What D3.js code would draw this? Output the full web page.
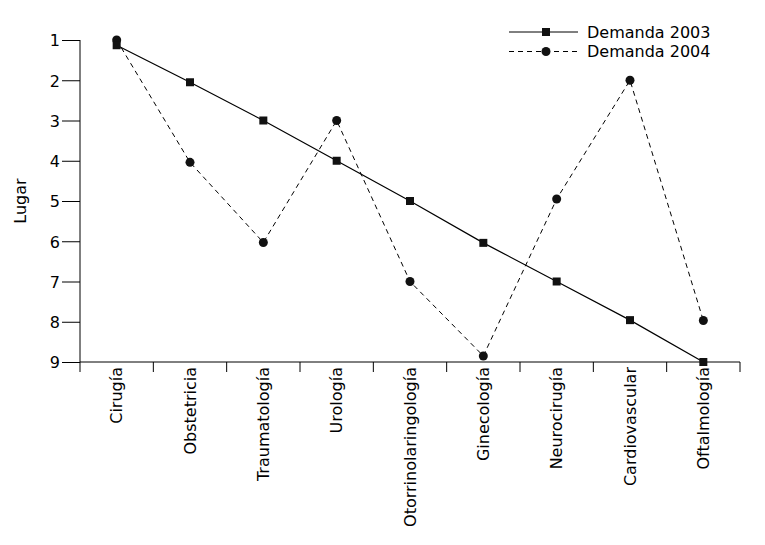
<!DOCTYPE html>
<html><head><meta charset="utf-8">
<script src="https://cdn.jsdelivr.net/npm/d3@7"></script>
<style>body{margin:0;background:#fff}svg{display:block}text{font-family:"DejaVu Sans",sans-serif;fill:#000}</style>
</head><body>
<svg id="c" width="765" height="545"></svg>
<script>
const categories = ["Cirugía","Obstetricia","Traumatología","Urología","Otorrinolaringología","Ginecología","Neurocirugía","Cardiovascular","Oftalmología"];
const demanda2003 = [1.13, 2.05, 3, 4, 5, 6.04, 7, 7.96, 9];
const demanda2004 = [1, 4.04, 6.03, 3, 7, 8.85, 4.95, 2, 7.97];
const yTicks = [1,2,3,4,5,6,7,8,9];
const seriesNames = ["Demanda 2003","Demanda 2004"];

const svg = d3.select("#c");
const x = d3.scaleBand().domain(categories).range([80, 740]);
const y = d3.scaleLinear().domain([1, 9]).range([40, 362]);

// y axis
const gy = svg.append("g").attr("transform","translate(80,0)")
  .call(d3.axisLeft(y).tickValues(yTicks).tickSize(18).tickPadding(2).tickFormat(d3.format("d")));
gy.select(".domain").attr("d","M0,40V362").attr("stroke","#000");
gy.selectAll(".tick line").attr("stroke","#000");
gy.selectAll(".tick text").style("font-size","16px").attr("dy","0.36em");

// x axis
const gx = svg.append("g").attr("transform","translate(0,362)");
gx.append("line").attr("x1",80).attr("x2",740).attr("stroke","#000");
const bounds = categories.map(c => x(c)).concat([x.range()[1]]);
gx.selectAll("line.t").data(bounds).join("line").attr("class","t")
  .attr("x1",d=>d).attr("x2",d=>d).attr("y1",0).attr("y2",10).attr("stroke","#000");
gx.selectAll("text").data(categories).join("text")
  .attr("transform",d=>`translate(${x(d)+x.bandwidth()/2},5) rotate(-90)`)
  .attr("text-anchor","end").attr("dy","0.35em").style("font-size","16px").text(d=>d);

// y label
svg.append("text").attr("transform","translate(26,201) rotate(-90)")
  .attr("text-anchor","middle").style("font-size","16px").text("Lugar");

const cx = d => x(d) + x.bandwidth()/2;
const line = d3.line().x(d=>cx(d[0])).y(d=>y(d[1]));
const d03 = categories.map((c,i)=>[c,demanda2003[i]]);
const d04 = categories.map((c,i)=>[c,demanda2004[i]]);

svg.append("path").datum(d04).attr("d",line).attr("fill","none").attr("stroke","#000").attr("stroke-width",1).attr("stroke-dasharray","5,4");
svg.append("path").datum(d03).attr("d",line).attr("fill","none").attr("stroke","#000").attr("stroke-width",1.2);

svg.selectAll("circle.p").data(d04).join("circle").attr("class","p")
  .attr("cx",d=>cx(d[0])).attr("cy",d=>y(d[1])).attr("r",4.5).attr("fill","#111");
svg.selectAll("rect.p").data(d03).join("rect").attr("class","p")
  .attr("x",d=>cx(d[0])-4).attr("y",d=>y(d[1])-4).attr("width",8).attr("height",8).attr("fill","#111");

// legend
const leg = svg.append("g");
[0,1].forEach(i=>{
  const ly = 32 + i*19.5;
  leg.append("line").attr("x1",509).attr("x2",578).attr("y1",ly).attr("y2",ly)
    .attr("stroke","#000").attr("stroke-dasharray", i ? "5,4" : null);
  if(i===0) leg.append("rect").attr("x",542).attr("y",ly-4).attr("width",8).attr("height",8).attr("fill","#111");
  else leg.append("circle").attr("cx",546).attr("cy",ly).attr("r",4.5).attr("fill","#111");
  leg.append("text").attr("x",587).attr("y",ly+5.5).style("font-size","16px").text(seriesNames[i]);
});
</script>
</body></html>
